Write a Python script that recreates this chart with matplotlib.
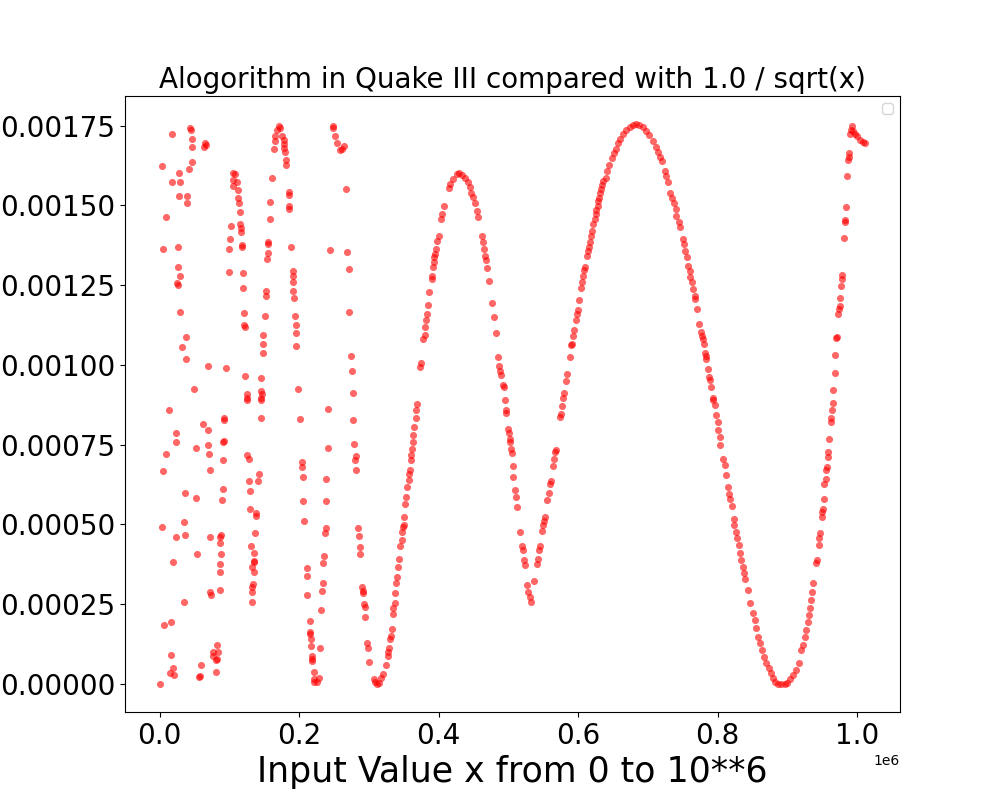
import numpy as np
import matplotlib
matplotlib.use("Agg")
import matplotlib.pyplot as plt

# values
# x in thousands, y in millionths

# scattered part, x < 0.3e6
scatter_x = [44, 45, 18, 46, 47, 65, 64, 67, 3, 46, 42, 28, 18, 29, 106, 108, 105, 111, 106,
             28, 40, 40, 9, 102, 101, 5, 26, 100, 26, 99, 30, 25, 26, 30, 38, 32, 38, 69, 95,
             50, 13, 93, 92, 62, 70, 23, 24, 92, 91, 52, 70, 9, 71, 91, 5, 72, 36, 52, 91, 89,
             3, 35, 23, 36, 73, 88, 87, 87, 53, 88, 19, 87, 86, 73, 74, 86, 35, 6, 16, 83, 76,
             77, 84, 82, 81, 16, 59, 20, 15, 21, 58, 57, 81, 1,
             112, 113, 114, 115, 116, 117, 117, 118, 118, 119, 120, 121, 121, 122, 123, 125,
             125, 126,
             161, 159, 158, 155, 156, 155, 154, 152, 152, 151, 149, 149, 148, 146, 146, 147,
             146, 145,
             171, 172, 168, 166, 165, 164, 176, 178, 178, 179, 180, 181, 181, 185, 185, 186,
             186, 189, 191, 191, 192, 192, 193, 194, 195, 195, 196, 199,
             145, 201, 126, 128, 142, 128, 141, 129, 130, 139, 138, 137, 131, 136, 136, 135,
             132, 135, 134, 133, 133, 133,
             204, 204, 205, 206, 207, 211, 211, 212, 215, 215, 216, 217, 217, 218, 219, 219,
             221, 221, 222, 226, 228,
             230, 232, 233, 234, 235, 236, 237, 238, 239, 239, 241, 242, 245, 248, 249, 251,
             254, 258, 261, 264, 268, 269, 271, 272, 275, 276, 277, 278, 279, 281, 280, 281,
             285, 286, 287, 288, 290, 291, 292, 293, 294, 295, 298, 299, 301]
scatter_y = [1744, 1737, 1723, 1708, 1682, 1695, 1683, 1690, 1623, 1636, 1614, 1601, 1573, 1573,
             1601, 1599, 1580, 1574, 1561, 1529, 1529, 1507, 1463, 1435, 1395, 1363, 1370, 1363,
             1307, 1291, 1279, 1257, 1252, 1166, 1088, 1057, 1019, 997, 991, 925, 860, 835, 826,
             816, 797, 788, 759, 761, 757, 741, 750, 722, 722, 703, 666, 672, 600, 584, 612, 578,
             493, 509, 462, 468, 462, 468, 462, 443, 406, 406, 381, 375, 350, 287, 278, 296, 256,
             184, 193, 121, 99, 87, 99, 77, 74, 90, 59, 49, 33, 27, 24, 22, 37, 0,
             1548, 1523, 1507, 1479, 1442, 1429, 1417, 1376, 1370, 1288, 1241, 1163, 1126, 1119,
             966, 910, 897, 891,
             1585, 1510, 1457, 1385, 1379, 1351, 1332, 1232, 1216, 1154, 1094, 1066, 1038, 960,
             919, 910, 897, 891,
             1748, 1742, 1736, 1717, 1701, 1676, 1717, 1704, 1692, 1679, 1667, 1642, 1626, 1542,
             1532, 1498, 1489, 1370, 1294, 1279, 1260, 1232, 1210, 1154, 1126, 1100, 1060, 925,
             835, 831, 719, 706, 659, 637, 637, 606, 550, 537, 528, 472, 434, 412, 387, 381, 368,
             350, 312, 303, 287, 256,
             697, 681, 650, 572, 512, 365, 337, 278, 196, 162, 156, 140, 118, 87, 77, 71, 37, 15,
             5, 6, 19,
             112, 231, 293, 315, 378, 400, 472, 490, 575, 644, 741, 863, 1360, 1748, 1742, 1717,
             1695, 1673, 1676, 1686, 1551, 1354, 1301, 1165, 1028, 982, 913, 828, 753, 716, 703,
             672, 490, 465, 429, 406, 303, 290, 285, 252, 240, 209, 130, 112, 68]

# dip near 0.31e6, first hump and the dip near 0.53e6
hump1_x = [307, 309, 312, 315, 318, 321, 324, 327, 328, 329, 331, 332, 333, 334, 335, 337, 338,
           339, 341, 342, 344, 345, 347, 348, 349, 350, 351, 352, 354, 355, 357, 358, 359, 360,
           361, 362, 363, 364, 365, 367, 368, 369, 374, 375, 378, 380, 381, 382, 384, 385, 387,
           390, 391, 392, 393, 394, 395, 397, 398, 400, 404, 405, 408, 415, 417, 421, 426, 430,
           434, 438, 442, 445, 447, 450, 452, 455, 457, 462, 464, 465, 467, 468, 470, 472, 477,
           480, 482, 485, 487, 488, 490, 493, 494, 495, 496, 497, 500, 501, 502, 503, 504, 505,
           506, 507, 510, 511, 513, 517, 520, 521, 523, 524, 527, 528, 531, 532, 537]
hump1_y = [15, 5, 0, 2, 18, 30, 59, 87, 99, 112, 140, 149, 171, 218, 237, 253, 284, 318, 336,
           367, 393, 433, 451, 477, 492, 498, 522, 565, 586, 617, 638, 659, 670, 701, 717, 738,
           758, 779, 805, 835, 860, 878, 995, 1007, 1082, 1095, 1120, 1141, 1158, 1189, 1229,
           1269, 1280, 1306, 1321, 1337, 1348, 1363, 1387, 1405, 1457, 1473, 1497, 1554, 1567,
           1582, 1598, 1603, 1596, 1587, 1572, 1556, 1540, 1525, 1506, 1481, 1462, 1405, 1384,
           1363, 1342, 1329, 1304, 1263, 1194, 1151, 1101, 1024, 998, 980, 969, 938, 932, 891,
           860, 850, 800, 786, 769, 758, 738, 725, 684, 650, 607, 586, 555, 477, 432, 419, 388,
           372, 310, 289, 273, 258, 322]

# big hump and the dip near 0.89e6
hump2_x = [541, 543, 544, 545, 548, 550, 551, 553, 555, 558, 560, 561, 564, 566, 567, 568, 574,
           576, 577, 578, 580, 583, 584, 588, 590, 591, 593, 594, 597, 598, 600, 601, 604, 606,
           607, 608, 610, 613, 614, 616, 617, 619, 620, 622, 624, 625, 626, 628, 629, 630, 632,
           633, 635, 636, 640, 642, 645, 648, 651, 654, 657, 660, 664, 669, 674, 679, 683, 688,
           693, 698, 702, 707, 711, 714, 718, 721, 724, 726, 729, 732, 735, 738, 740, 741, 744,
           746, 750, 752, 754, 756, 758, 760, 761, 763, 765, 767, 768, 770, 774, 776, 777, 779,
           780, 782, 783, 784, 786, 788, 789, 791, 793, 794, 796, 798, 800, 801, 803, 804, 808,
           810, 812, 815, 817, 818, 820, 823, 824, 826, 828, 830, 832, 834, 836, 838, 840, 843,
           847, 851, 853, 855, 858, 861, 864, 867, 870, 873, 876, 879, 882, 886, 891, 896, 900,
           904, 908, 912, 916, 920, 922, 925, 927, 929, 931, 933, 934, 935, 937]
hump2_y = [375, 393, 419, 432, 480, 498, 511, 522, 576, 600, 628, 636, 682, 704, 727, 734, 836,
           847, 870, 897, 913, 949, 972, 1024, 1061, 1066, 1090, 1110, 1141, 1160, 1173, 1204,
           1241, 1259, 1278, 1299, 1306, 1341, 1358, 1368, 1384, 1405, 1421, 1442, 1457, 1473,
           1485, 1499, 1514, 1523, 1540, 1551, 1565, 1577, 1587, 1608, 1626, 1647, 1664, 1678,
           1694, 1707, 1723, 1737, 1747, 1753, 1755, 1752, 1746, 1733, 1720, 1702, 1684, 1668,
           1653, 1640, 1608, 1593, 1572, 1540, 1522, 1507, 1490, 1467, 1447, 1431, 1395, 1379,
           1358, 1337, 1311, 1295, 1274, 1259, 1238, 1217, 1205, 1176, 1129, 1102, 1092, 1082,
           1066, 1037, 1029, 1019, 988, 962, 953, 930, 897, 889, 873, 842, 821, 795, 774, 748,
           706, 685, 656, 617, 597, 581, 557, 518, 498, 477, 456, 435, 409, 388, 367, 348, 328,
           294, 253, 221, 200, 174, 148, 127, 106, 85, 65, 49, 33, 18, 7, 0, 1, 0, 4, 15, 28,
           44, 65, 106, 122, 148, 169, 195, 216, 237, 263, 289, 315]

# last rise up to 1e6
rise_x = [941, 942, 945, 946, 947, 949, 950, 951, 952, 953, 955, 956, 957, 958, 959, 960, 962,
          963, 964, 965, 966, 968, 969, 970, 971, 973, 974, 975, 976, 977, 978, 979, 981, 982,
          983, 984, 986, 987, 988, 989, 990, 991, 992, 994, 997, 1000, 1004, 1008, 1011]
rise_y = [378, 388, 435, 456, 472, 523, 539, 550, 581, 628, 644, 672, 680, 711, 727, 769, 821,
          835, 860, 880, 920, 975, 1032, 1085, 1088, 1160, 1176, 1186, 1210, 1248, 1269, 1283,
          1398, 1449, 1454, 1495, 1592, 1642, 1652, 1665, 1723, 1736, 1749, 1733, 1725, 1716,
          1706, 1699, 1695]

x_all = np.array(scatter_x + hump1_x + hump2_x + rise_x) * 1000.0
y_all = np.array(scatter_y + hump1_y + hump2_y + rise_y) * 1e-6

fig = plt.figure(figsize=(10, 8), dpi=100)
plt.scatter(x_all, y_all, color='red', alpha=0.6, s=26, linewidths=0)
plt.title("Alogorithm in Quake III compared with 1.0 / sqrt(x)", fontsize=20)
plt.xlabel("Input Value x from 0 to 10**6", fontsize=25)
plt.xticks(fontsize=20)
plt.yticks(fontsize=20)
plt.legend(handles=[], loc='upper right')
plt.savefig("out.png")
